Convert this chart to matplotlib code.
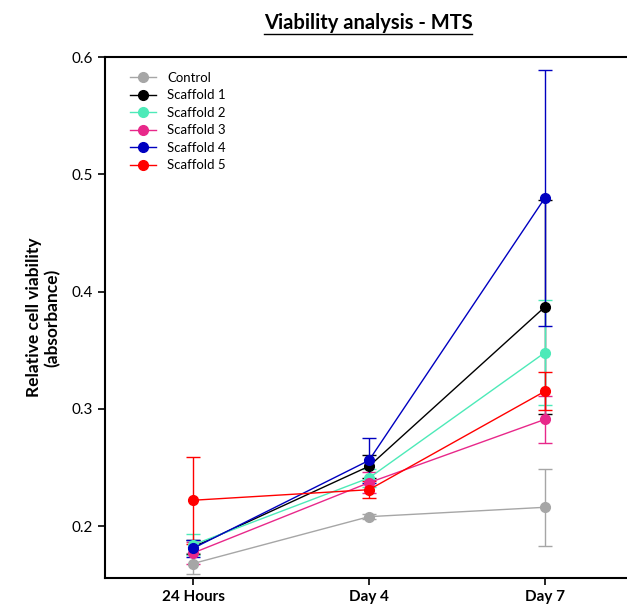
import matplotlib
matplotlib.use('Agg')
import matplotlib.pyplot as plt
from matplotlib.lines import Line2D

# data
timepoints = ['24 Hours', 'Day 4', 'Day 7']
groups = ['Control', 'Scaffold 1', 'Scaffold 2', 'Scaffold 3', 'Scaffold 4', 'Scaffold 5']
colors = ['#a6a6a6', '#000000', '#4deab8', '#e8288a', '#0000c0', '#ff0000']

control = [0.168, 0.208, 0.216]
scaffold1 = [0.182, 0.251, 0.387]
scaffold2 = [0.184, 0.241, 0.348]
scaffold3 = [0.177, 0.237, 0.291]
scaffold4 = [0.181, 0.256, 0.480]
scaffold5 = [0.222, 0.231, 0.315]

control_err = [0.009, 0.002, 0.033]
scaffold1_err = [0.006, 0.010, 0.091]
scaffold2_err = [0.009, 0.008, 0.045]
scaffold3_err = [0.009, 0.009, 0.020]
scaffold4_err = [0.007, 0.019, 0.109]
scaffold5_err = [0.037, 0.007, 0.016]

means = [control, scaffold1, scaffold2, scaffold3, scaffold4, scaffold5]
errs = [control_err, scaffold1_err, scaffold2_err, scaffold3_err, scaffold4_err, scaffold5_err]

plt.rcParams['font.family'] = ['Lato', 'DejaVu Sans']

fig = plt.figure(figsize=(6.27, 6.08), dpi=100)
ax = fig.add_axes([0.1675, 0.049, 0.842, 0.857])

x = list(range(len(timepoints)))
handles = []
for name, m, e, c in zip(groups, means, errs, colors):
    ax.errorbar(x, m, yerr=e, color=c, marker='o', markersize=7, linewidth=1,
                elinewidth=1, capsize=5, capthick=1)
    handles.append(Line2D([], [], color=c, marker='o', markersize=7, linewidth=1, label=name))

ax.set_xlim(-0.5, 2.5)
ax.set_ylim(0.1555, 0.6)
ax.set_yticks([0.2, 0.3, 0.4, 0.5, 0.6])
ax.set_yticklabels(['0.2', '0.3', '0.4', '0.5', '0.6'], fontsize=11)
ax.set_xticks(x)
ax.set_xticklabels(timepoints, fontsize=11, fontweight='bold')
ax.tick_params(axis='both', direction='out', length=5, width=1.2)
for s in ax.spines.values():
    s.set_linewidth(1.5)

ax.set_ylabel('Relative cell viability\n(absorbance)', fontsize=12.5,
              fontweight='bold', labelpad=8, multialignment='center')

ax.legend(handles=handles, loc='upper left', bbox_to_anchor=(0.025, 0.995), frameon=False,
          fontsize=9.5, handlelength=2.0, labelspacing=0.42, handletextpad=0.8)

t = fig.text(0.587, 0.962, 'Viability analysis - MTS', ha='center', va='center',
             fontsize=14.5, fontweight='bold')
fig.canvas.draw()
bb = t.get_window_extent().transformed(fig.transFigure.inverted())
fig.add_artist(Line2D([bb.x0, bb.x1], [bb.y0 - 0.002, bb.y0 - 0.002],
                      transform=fig.transFigure, color='black', linewidth=1))

fig.savefig('out.png', dpi=100)
